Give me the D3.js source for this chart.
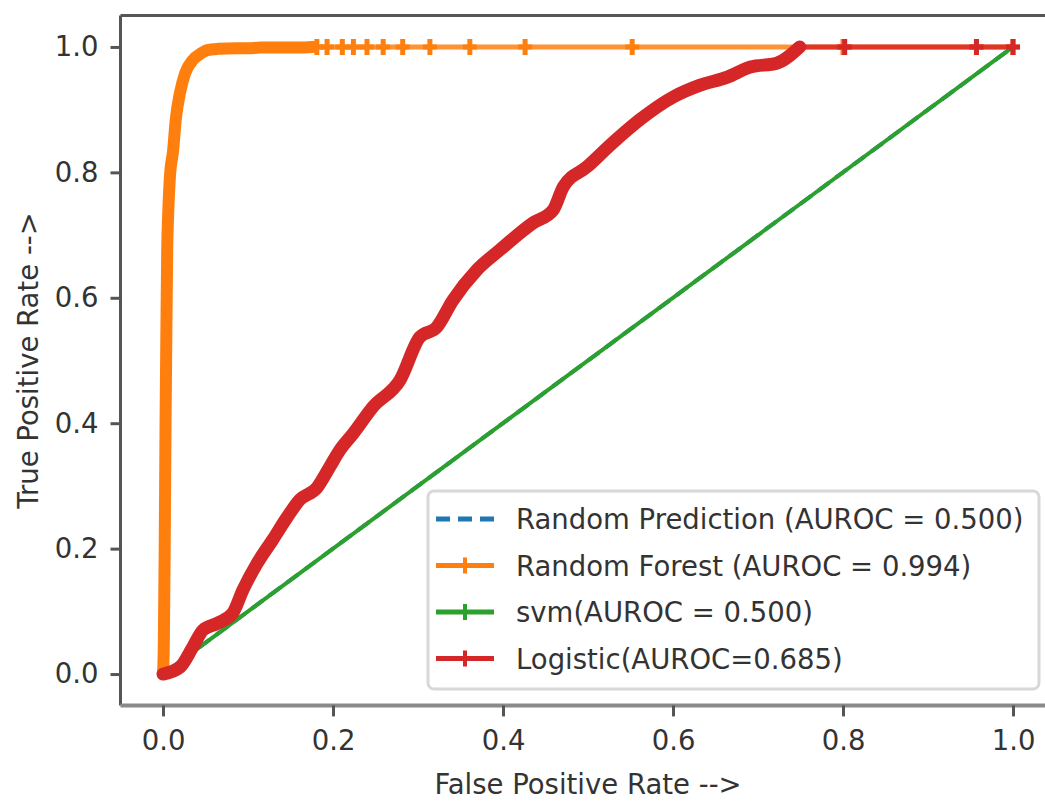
<!DOCTYPE html>
<html>
<head>
<meta charset="utf-8">
<script src="https://cdnjs.cloudflare.com/ajax/libs/d3/7.8.5/d3.min.js"></script>
<style>
  body { margin: 0; background: #fff; }
  svg { display: block; }
</style>
</head>
<body>
<div id="chart"></div>
<script>
// ROC data
var xTicks = [0.0, 0.2, 0.4, 0.6, 0.8, 1.0];
var yTicks = [0.0, 0.2, 0.4, 0.6, 0.8, 1.0];

var randomFpr = [0, 1];
var randomTpr = [0, 1];

var svmFpr = [0, 1];
var svmTpr = [0, 1];

var rfFpr = [0, 0.001, 0.002, 0.003, 0.004, 0.005, 0.006, 0.008, 0.012, 0.015, 0.020, 0.026, 0.035, 0.045, 0.052, 0.065, 0.087, 0.100, 0.115, 0.130, 0.145, 0.160, 0.176, 0.181, 0.193, 0.211, 0.224, 0.240, 0.259, 0.282, 0.314, 0.361, 0.426, 0.552, 0.800, 0.957, 1.0];
var rfTpr = [0, 0.05, 0.20, 0.40, 0.55, 0.68, 0.73, 0.79, 0.836, 0.884, 0.927, 0.958, 0.979, 0.990, 0.995, 0.997, 0.998, 0.998, 0.999, 0.999, 0.999, 0.999, 1, 1, 1, 1, 1, 1, 1, 1, 1, 1, 1, 1, 1, 1, 1];

var logFpr = [0, 0.020, 0.035, 0.047, 0.064, 0.082, 0.094, 0.111, 0.129, 0.146, 0.161, 0.181, 0.196, 0.208, 0.224, 0.247, 0.279, 0.302, 0.322, 0.341, 0.369, 0.396, 0.435, 0.459, 0.471, 0.499, 0.529, 0.561, 0.600, 0.632, 0.664, 0.691, 0.722, 0.749, 0.802, 0.957, 1.0];
var logTpr = [0, 0.011, 0.043, 0.070, 0.081, 0.097, 0.134, 0.177, 0.214, 0.250, 0.278, 0.297, 0.330, 0.357, 0.384, 0.426, 0.469, 0.537, 0.553, 0.596, 0.644, 0.676, 0.719, 0.740, 0.777, 0.809, 0.847, 0.884, 0.920, 0.939, 0.952, 0.968, 0.974, 1.0, 1, 1, 1];

var legendLabels = ['Random Prediction (AUROC = 0.500)', 'Random Forest (AUROC = 0.994)', 'svm(AUROC = 0.500)', 'Logistic(AUROC=0.685)'];

var colors = { blue: '#1f77b4', orange: '#ff7f0e', green: '#2ca02c', red: '#d62728' };
var font = 'DejaVu Sans, sans-serif';
var fs = 27.5;

var W = 1045, H = 801;
var svg = d3.select('#chart').append('svg').attr('width', W).attr('height', H);
svg.append('rect').attr('width', W).attr('height', H).attr('fill', '#fff');

var x = d3.scaleLinear().domain([-0.05, 1.05]).range([120.5, 1055.5]);
var y = d3.scaleLinear().domain([-0.05, 1.05]).range([705.4, 15.6]);

function zip(a, b) { return a.map(function (d, i) { return [d, b[i]]; }); }
var line = d3.line().x(function (d) { return x(d[0]); }).y(function (d) { return y(d[1]); });
var smooth = d3.line().curve(d3.curveMonotoneX).x(function (d) { return x(d[0]); }).y(function (d) { return y(d[1]); });

var plot = svg.append('g');

// random prediction (dashed), hidden under svm
plot.append('path').datum(zip(randomFpr, randomTpr)).attr('d', line)
	.attr('fill', 'none').attr('stroke', colors.blue).attr('stroke-width', 4).attr('stroke-dasharray', '14,8');

function drawCurve(fpr, tpr, color, denseEnd, bandWidth) {
	var pts = zip(fpr, tpr);
	// thin line through all points
	plot.append('path').datum(pts).attr('d', smooth)
		.attr('fill', 'none').attr('stroke', color).attr('stroke-width', 5).attr('stroke-opacity', 0.85);
	// dense marker region looks like a thick band
	plot.append('path').datum(pts.filter(function (d) { return d[0] <= denseEnd; })).attr('d', smooth)
		.attr('fill', 'none').attr('stroke', color).attr('stroke-width', bandWidth)
		.attr('stroke-linejoin', 'round').attr('stroke-linecap', 'round');
	// sparse '+' markers
	var m = plot.append('g');
	pts.filter(function (d) { return d[0] > denseEnd; }).forEach(function (d) {
		m.append('path')
			.attr('d', 'M' + (x(d[0]) - 7) + ',' + y(d[1]) + 'h14M' + x(d[0]) + ',' + (y(d[1]) - 8) + 'v16')
			.attr('stroke', color).attr('stroke-width', 5).attr('fill', 'none');
	});
}

drawCurve(rfFpr, rfTpr, colors.orange, 0.176, 12);

plot.append('path').datum(zip(svmFpr, svmTpr)).attr('d', line)
	.attr('fill', 'none').attr('stroke', colors.green).attr('stroke-width', 4);

drawCurve(logFpr, logTpr, colors.red, 0.749, 13);

// spines
var x0 = x(-0.05), x1 = x(1.05), y0 = y(-0.05), y1 = y(1.05);
var sp = svg.append('g').attr('stroke-width', 3).attr('fill', 'none');
sp.append('line').attr('x1', x0).attr('x2', x1).attr('y1', y1).attr('y2', y1).attr('stroke', '#555');
sp.append('line').attr('x1', x0).attr('x2', x0).attr('y1', y1).attr('y2', y0).attr('stroke', '#555');
sp.append('line').attr('x1', x1).attr('x2', x1).attr('y1', y1).attr('y2', y0).attr('stroke', '#555');
sp.append('line').attr('x1', x0).attr('x2', x1).attr('y1', y0).attr('y2', y0).attr('stroke', '#8a8a8a').attr('stroke-width', 4);

// axes
var xAxis = svg.append('g').attr('transform', 'translate(0,' + y0 + ')')
	.call(d3.axisBottom(x).tickValues(xTicks).tickFormat(d3.format('.1f')).tickSize(11).tickPadding(14));
var yAxis = svg.append('g').attr('transform', 'translate(' + x0 + ',0)')
	.call(d3.axisLeft(y).tickValues(yTicks).tickFormat(d3.format('.1f')).tickSize(10).tickPadding(12));
[xAxis, yAxis].forEach(function (g) {
	g.select('.domain').remove();
	g.selectAll('line').attr('stroke', '#555').attr('stroke-width', 3);
	g.selectAll('text').attr('font-family', font).attr('font-size', fs).attr('fill', '#333');
});

// axis titles
svg.append('text').attr('x', (x0 + x1) / 2).attr('y', 794)
	.attr('text-anchor', 'middle').attr('font-family', font).attr('font-size', fs).attr('fill', '#333')
	.text('False Positive Rate -->');
svg.append('text').attr('transform', 'translate(38,' + (y0 + y1) / 2 + ') rotate(-90)')
	.attr('text-anchor', 'middle').attr('font-family', font).attr('font-size', fs).attr('fill', '#333')
	.text('True Positive Rate -->');

// legend
var lg = svg.append('g');
lg.append('rect').attr('x', 428).attr('y', 491).attr('width', 611).attr('height', 198).attr('rx', 6)
	.attr('fill', '#fff').attr('fill-opacity', 0.8).attr('stroke', '#d8d8d8').attr('stroke-width', 3);
var legendColors = [colors.blue, colors.orange, colors.green, colors.red];
legendLabels.forEach(function (label, i) {
	var cy = 519 + i * 46.5;
	var c = legendColors[i];
	var l = lg.append('line').attr('x1', 436).attr('x2', 494).attr('y1', cy).attr('y2', cy)
		.attr('stroke', c).attr('stroke-width', 5);
	if (i === 0) {
		l.attr('stroke-dasharray', '14,8');
	} else {
		lg.append('path').attr('d', 'M459,' + cy + 'h12M465,' + (cy - 8) + 'v16')
			.attr('stroke', c).attr('stroke-width', 4).attr('fill', 'none');
	}
	lg.append('text').attr('x', 516).attr('y', cy + 10)
		.attr('font-family', font).attr('font-size', fs).attr('fill', '#333').text(label);
});
</script>
</body>
</html>
